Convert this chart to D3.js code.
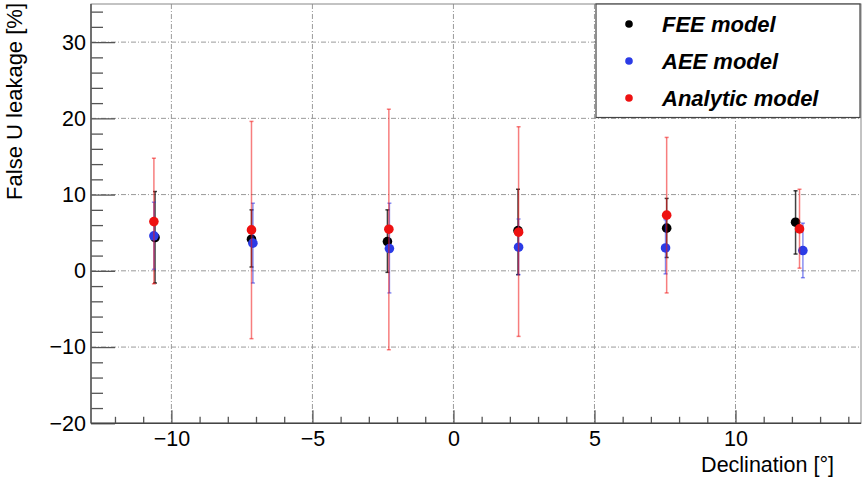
<!DOCTYPE html>
<html><head><meta charset="utf-8">
<script src="https://cdn.jsdelivr.net/npm/d3@7"></script>
<style>
body{margin:0;background:#fff;}
text{font-family:"Liberation Sans",Arial,sans-serif;}
</style></head>
<body><svg id="c" width="866" height="477"></svg>
<script>
// ---- data ----
const seriesNames = ["FEE model", "AEE model", "Analytic model"];
const seriesColors = ["#000000", "#2b3be6", "#ee1111"];
const barColors = ["rgba(0,0,0,0.75)", "rgba(40,50,230,0.55)", "rgba(240,20,20,0.55)"];

const feeX  = [-10.58, -7.16, -2.34, 2.29, 7.56, 12.13];
const feeY  = [4.37, 4.15, 3.84, 5.28, 5.6, 6.38];
const feeLo = [-1.6, 0.5, -0.2, -0.5, 1.75, 2.2];
const feeHi = [10.4, 8.0, 8.0, 10.7, 9.5, 10.5];

const aeeX  = [-10.62, -7.11, -2.27, 2.31, 7.52, 12.39];
const aeeY  = [4.59, 3.63, 2.92, 3.1, 3.0, 2.66];
const aeeLo = [0.2, -1.6, -2.9, -0.5, -0.4, -0.9];
const aeeHi = [9.0, 8.87, 8.87, 6.8, 6.7, 6.25];

const anaX  = [-10.62, -7.16, -2.29, 2.31, 7.56, 12.27];
const anaY  = [6.46, 5.37, 5.46, 5.07, 7.3, 5.5];
const anaLo = [-1.7, -8.9, -10.35, -8.6, -2.9, 0.35];
const anaHi = [14.77, 19.6, 21.2, 18.9, 17.5, 10.7];

const xMajorTicks = [-10, -5, 0, 5, 10];
const yMajorTicks = [-20, -10, 0, 10, 20, 30];
const xLabel = "Declination [°]";
const yLabel = "False U leakage [%]";

// ---- layout ----
const L = 91, R = 861, T = 4, B = 423.3;
const x = d3.scaleLinear().domain([-12.85, 14.45]).range([L, R]);
const y = d3.scaleLinear().domain([-20, 35]).range([B, T]);
const svg = d3.select("#c");

const xMinor = d3.range(-12, 15, 1).filter(v => !xMajorTicks.includes(v));
const yMinor = d3.range(-18, 35, 2).filter(v => !yMajorTicks.includes(v));

// grid
const grid = svg.append("g").attr("stroke", "#9a9a9a").attr("stroke-width", 1).attr("stroke-dasharray", "5,2,1,2");
grid.selectAll(".gx").data(xMajorTicks).join("line")
  .attr("x1", d => x(d)).attr("x2", d => x(d)).attr("y1", T).attr("y2", B);
grid.selectAll(".gy").data(yMajorTicks.filter(v => v > -20)).join("line")
  .attr("y1", d => y(d)).attr("y2", d => y(d)).attr("x1", L).attr("x2", R);

// axes
const tickColor = "#555";
const yAxMaj = svg.append("g").attr("transform", `translate(${L},0)`)
  .call(d3.axisLeft(y).tickValues(yMajorTicks).tickSize(-24).tickPadding(5).tickFormat(d3.format("d")));
const yAxMin = svg.append("g").attr("transform", `translate(${L},0)`)
  .call(d3.axisLeft(y).tickValues(yMinor).tickSize(-12).tickFormat(""));
const xAxMaj = svg.append("g").attr("transform", `translate(0,${B})`)
  .call(d3.axisBottom(x).tickValues(xMajorTicks).tickSize(-13).tickPadding(7).tickFormat(d3.format("d")));
const xAxMin = svg.append("g").attr("transform", `translate(0,${B})`)
  .call(d3.axisBottom(x).tickValues(xMinor).tickSize(-6.5).tickFormat(""));
[yAxMaj, yAxMin, xAxMaj, xAxMin].forEach(g => {
  g.select(".domain").remove();
  g.selectAll("line").attr("stroke", tickColor).attr("stroke-width", 1.3);
  g.selectAll("text").attr("font-size", 21.5).attr("fill", "#000")
    .attr("font-family", "'Liberation Sans', Arial, sans-serif");
});

// frame
svg.append("rect").attr("x", L).attr("y", T).attr("width", R - L).attr("height", B - T)
  .attr("fill", "none").attr("stroke", "#888").attr("stroke-width", 1);
svg.append("line").attr("x1", L).attr("x2", L).attr("y1", T).attr("y2", B).attr("stroke", "#555").attr("stroke-width", 1.5);
svg.append("line").attr("x1", L).attr("x2", R).attr("y1", B).attr("y2", B).attr("stroke", "#444").attr("stroke-width", 1.5);

// axis titles
svg.append("text").attr("x", 834).attr("y", 472).attr("text-anchor", "end")
  .attr("font-size", 21.5).text(xLabel);
svg.append("text").attr("transform", "translate(21.5,3) rotate(-90)").attr("text-anchor", "end")
  .attr("font-size", 22).text(yLabel);

// data series
const series = [
  {xs: feeX, ys: feeY, lo: feeLo, hi: feeHi},
  {xs: aeeX, ys: aeeY, lo: aeeLo, hi: aeeHi},
  {xs: anaX, ys: anaY, lo: anaLo, hi: anaHi}
];
series.forEach((s, k) => {
  const pts = s.xs.map((xv, i) => ({x: xv, y: s.ys[i], lo: s.lo[i], hi: s.hi[i]}));
  const g = svg.append("g");
  g.selectAll(".eb").data(pts).join("line")
    .attr("x1", d => x(d.x)).attr("x2", d => x(d.x))
    .attr("y1", d => y(d.lo)).attr("y2", d => y(d.hi))
    .attr("stroke", barColors[k]).attr("stroke-width", 1.5);
  ["lo", "hi"].forEach(e => {
    g.selectAll(".cap" + e).data(pts).join("line")
      .attr("x1", d => x(d.x) - 2).attr("x2", d => x(d.x) + 2)
      .attr("y1", d => y(d[e])).attr("y2", d => y(d[e]))
      .attr("stroke", barColors[k]).attr("stroke-width", 1.5);
  });
  g.selectAll(".dot").data(pts).join("circle")
    .attr("cx", d => x(d.x)).attr("cy", d => y(d.y)).attr("r", 4.8)
    .attr("fill", seriesColors[k]);
});

// legend
const lg = svg.append("g");
lg.append("rect").attr("x", 596).attr("y", 4).attr("width", 264).attr("height", 113.5)
  .attr("fill", "#fff").attr("stroke", "#444").attr("stroke-width", 1.2);
const legY = d3.scalePoint().domain(seriesNames).range([24, 98]);
seriesNames.forEach((n, k) => {
  lg.append("circle").attr("cx", 629).attr("cy", legY(n)).attr("r", 3.8).attr("fill", seriesColors[k]);
  lg.append("text").attr("x", 662).attr("y", legY(n) + 8).attr("font-size", 22)
    .attr("font-weight", "bold").attr("font-style", "italic").text(n);
});
</script></body></html>
